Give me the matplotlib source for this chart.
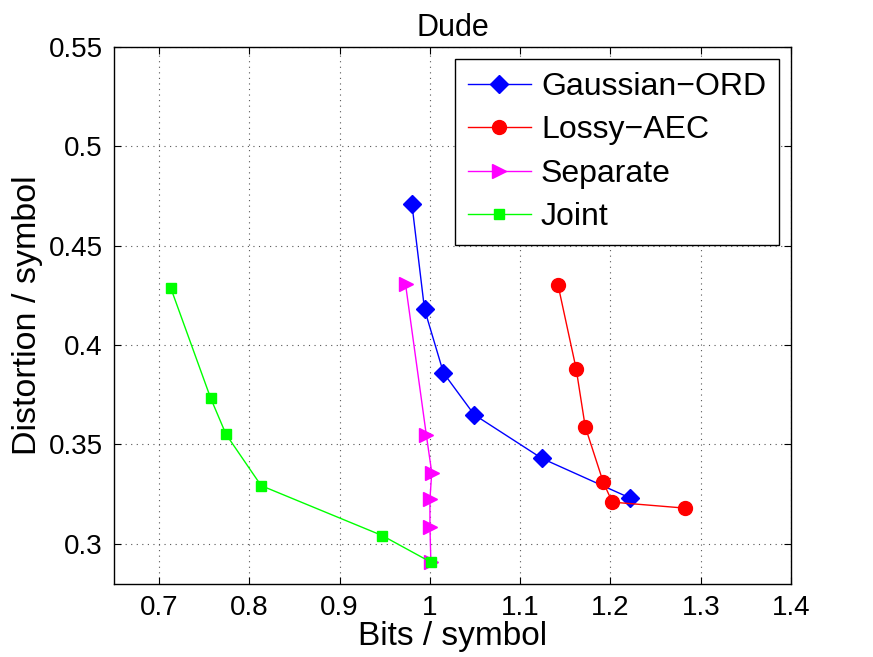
"""
Rate-distortion curves for the Dude sequence
"""

import matplotlib
matplotlib.use("Agg")
import matplotlib.pyplot as plt

plt.rcParams["font.family"] = ["Liberation Sans", "DejaVu Sans"]

# data
gauss_bits = [0.980, 0.994, 1.015, 1.049, 1.124, 1.222]
gauss_dist = [0.471, 0.418, 0.386, 0.365, 0.343, 0.323]

lossy_bits = [1.142, 1.162, 1.172, 1.192, 1.202, 1.282]
lossy_dist = [0.430, 0.388, 0.359, 0.331, 0.321, 0.318]

sep_bits = [0.973, 0.996, 1.002, 1.000, 1.000, 1.001]
sep_dist = [0.4305, 0.3547, 0.3359, 0.3226, 0.3084, 0.2910]

joint_bits = [0.713, 0.757, 0.774, 0.813, 0.947, 1.001]
joint_dist = [0.4286, 0.3734, 0.3552, 0.3293, 0.3042, 0.2908]

x_ticks = [0.7, 0.8, 0.9, 1.0, 1.1, 1.2, 1.3, 1.4]
x_labels = ["0.7", "0.8", "0.9", "1", "1.1", "1.2", "1.3", "1.4"]
y_ticks = [0.3, 0.35, 0.4, 0.45, 0.5, 0.55]
y_labels = ["0.3", "0.35", "0.4", "0.45", "0.5", "0.55"]

fig = plt.figure(figsize=(8.73, 6.57), dpi=100)
ax = fig.add_axes([0.1306, 0.1117, 0.7755, 0.8168])

ax.plot(gauss_bits, gauss_dist, color="blue", marker="D", markersize=9,
        linewidth=1, label="Gaussian\u2212ORD")
ax.plot(lossy_bits, lossy_dist, color="red", marker="o", markersize=10,
        linewidth=1, label="Lossy\u2212AEC")
ax.plot(sep_bits, sep_dist, color="magenta", marker=">", markersize=10,
        linewidth=1, label="Separate")
ax.plot(joint_bits, joint_dist, color="#00ff00", marker="s", markersize=7,
        linewidth=1, label="Joint")

ax.set_xlim(0.65, 1.4)
ax.set_ylim(0.28, 0.55)
ax.set_xticks(x_ticks)
ax.set_xticklabels(x_labels)
ax.set_yticks(y_ticks)
ax.set_yticklabels(y_labels)
ax.tick_params(direction="in", top=True, right=True, labelsize=20,
               length=5, width=0.8, pad=8)
ax.grid(True, linestyle=(0, (1, 4)), color="#555555", linewidth=0.8)
for sp in ax.spines.values():
    sp.set_linewidth(1.0)

ax.set_xlabel("Bits / symbol", fontsize=24, labelpad=0)
ax.set_ylabel("Distortion / symbol", fontsize=24.5, labelpad=4)
ax.set_title("Dude", fontsize=22, pad=8)

leg = ax.legend(loc="upper right", fontsize=23, fancybox=False,
                edgecolor="black", framealpha=1, borderaxespad=0.38,
                handlelength=2.0, handletextpad=0.3, labelspacing=0.42,
                borderpad=0.4)
leg.get_frame().set_linewidth(1.0)

fig.savefig("out.png", dpi=100)
plt.close(fig)
